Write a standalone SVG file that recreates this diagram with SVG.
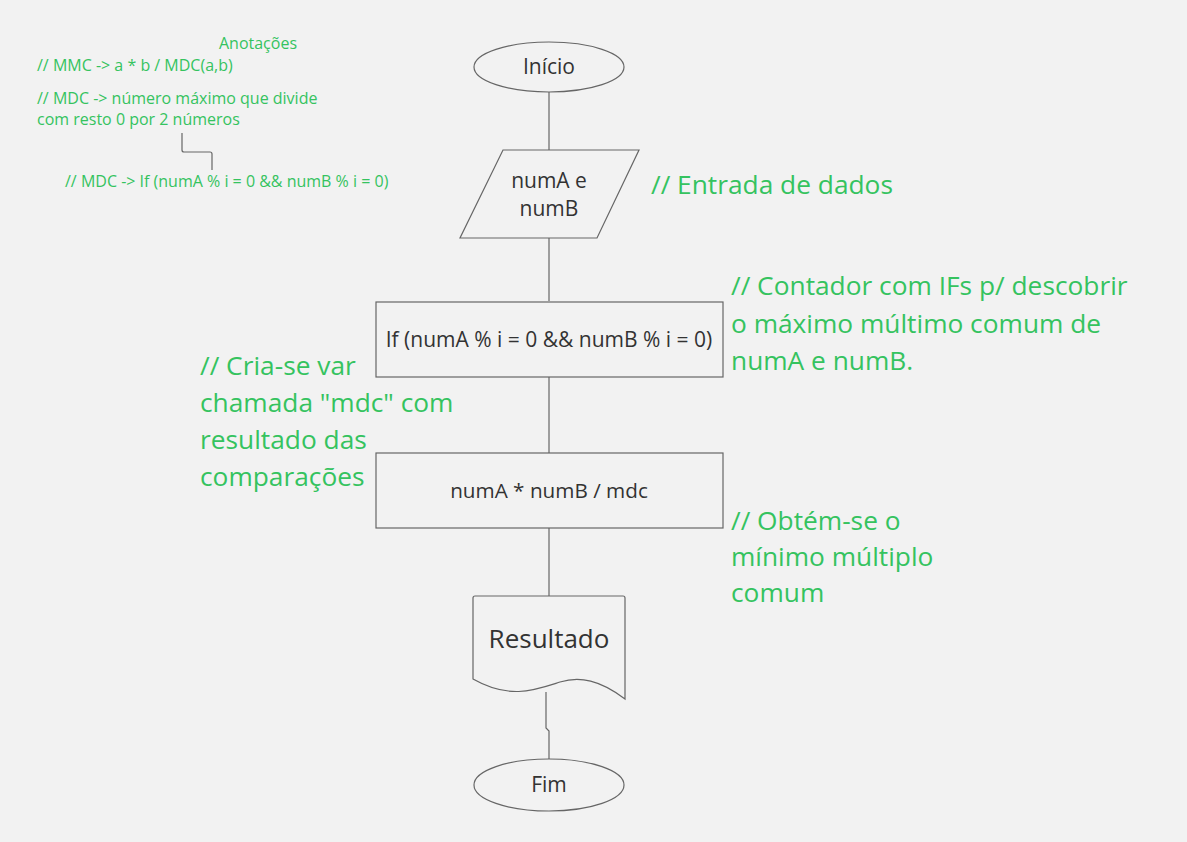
<svg xmlns="http://www.w3.org/2000/svg" width="1187" height="842" viewBox="0 0 1187 842">
<style>
.bg{fill:#f2f2f2}
.shape{fill:#f2f2f2;stroke:#666;stroke-width:1.2}
.conn{fill:none;stroke:#666;stroke-width:1.2}
.t{font-family:"Open Sans",sans-serif;fill:#333;text-anchor:middle}
.g{font-family:"Open Sans",sans-serif;fill:#35c35f}
.gs{font-size:16px}
.gl{font-size:26.3px}
</style>
<rect class="bg" x="0" y="0" width="1187" height="842"/>
<g id="connectors">
<line class="conn" x1="549" y1="92" x2="549" y2="150"/>
<line class="conn" x1="549" y1="238" x2="549" y2="301"/>
<line class="conn" x1="549" y1="377" x2="549" y2="453"/>
<line class="conn" x1="549" y1="528" x2="549" y2="596"/>
<path class="conn" d="M546 692 V728 L549 731 V759"/>
<path class="conn" d="M182 133 V150 Q182 152 184 152 H210 Q212 152 212 154 V170"/>
</g>
<g id="inicio">
<ellipse class="shape" cx="549" cy="67" rx="75" ry="25"/>
<text class="t" x="549" y="74" font-size="21">Início</text>
</g>
<g id="entrada">
<polygon class="shape" points="503,150 639,150 597,238 460,238"/>
<text class="t" x="549" y="188" font-size="21">numA e</text>
<text class="t" x="549" y="216" font-size="21">numB</text>
</g>
<g id="contador">
<rect class="shape" x="376" y="302" width="347" height="75"/>
<text class="t" x="549" y="347" font-size="21">If (numA % i = 0 &amp;&amp; numB % i = 0)</text>
</g>
<g id="calculo">
<rect class="shape" x="376" y="453" width="347" height="75"/>
<text class="t" x="549" y="498" font-size="20.7">numA * numB / mdc</text>
</g>
<g id="resultado">
<path class="shape" d="M473 598 Q473 596 475 596 H623 Q625 596 625 598 V699 C600 680 580 676 560 682 C535 690 510 700 473 679 Z"/>
<text class="t" x="549" y="648" font-size="26">Resultado</text>
</g>
<g id="fim">
<ellipse class="shape" cx="549" cy="785" rx="75" ry="26"/>
<text class="t" x="549" y="792" font-size="21">Fim</text>
</g>
<g id="anotacoes">
<text class="g gs" x="258" y="49" text-anchor="middle">Anotações</text>
<text class="g gs" x="37" y="71">// MMC -&gt; a * b / MDC(a,b)</text>
<text class="g gs" x="37" y="104">// MDC -&gt; número máximo que divide</text>
<text class="g gs" x="37" y="125">com resto 0 por 2 números</text>
<text class="g gs" x="65" y="187">// MDC -&gt; If (numA % i = 0 &amp;&amp; numB % i = 0)</text>
</g>
<g id="nota-entrada">
<text class="g gl" x="651" y="194">// Entrada de dados</text>
</g>
<g id="nota-contador">
<text class="g gl" x="731" y="295">// Contador com IFs p/ descobrir</text>
<text class="g gl" x="731" y="333">o máximo múltimo comum de</text>
<text class="g gl" x="731" y="370">numA e numB.</text>
</g>
<g id="nota-mdc">
<text class="g gl" x="200" y="375">// Cria-se var</text>
<text class="g gl" x="200" y="412">chamada "mdc" com</text>
<text class="g gl" x="200" y="449">resultado das</text>
<text class="g gl" x="200" y="486">comparações</text>
</g>
<g id="nota-mmc">
<text class="g gl" x="731" y="530">// Obtém-se o</text>
<text class="g gl" x="731" y="566">mínimo múltiplo</text>
<text class="g gl" x="731" y="602">comum</text>
</g>
</svg>
